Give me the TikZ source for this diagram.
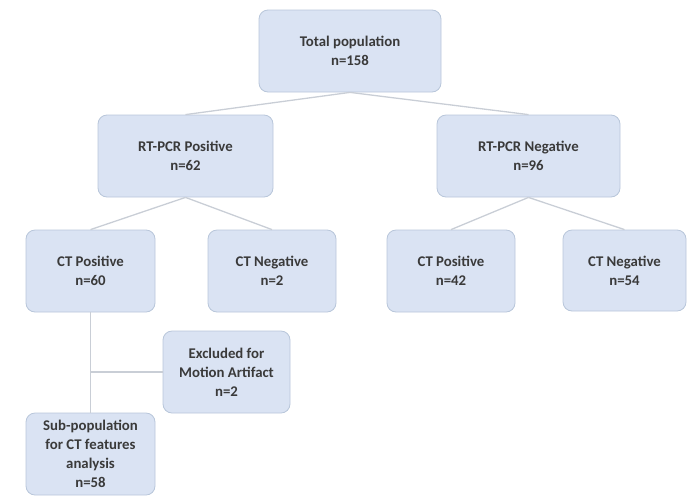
\documentclass[tikz,border=0pt]{standalone}
\usepackage{xcolor}
\usepackage{fontspec}
\setmainfont{Carlito}
\usepackage{tikz}

\definecolor{boxfill}{HTML}{DAE3F3}
\definecolor{boxline}{HTML}{B8C6DA}
\definecolor{linkline}{HTML}{C9CED6}
\definecolor{boxtext}{HTML}{3A3A3A}

\tikzset{
  group/.style={draw=boxline, fill=boxfill, rounded corners=9pt, line width=0.8pt,
    align=center, text=boxtext, inner sep=2pt,
    font=\fontsize{14.8}{19}\selectfont\bfseries},
  link/.style={draw=linkline, line width=1.3pt}
}

\begin{document}
\begin{tikzpicture}[x=1pt,y=-1pt]
\useasboundingbox (0,0) rectangle (687,496);

\node[group, minimum width=182pt, minimum height=82pt] (total) at (350,51) {Total population\\n=158};

\node[group, minimum width=175pt, minimum height=82pt] (rtpos) at (185.5,156) {RT-PCR Positive\\n=62};
\node[group, minimum width=183pt, minimum height=82pt] (rtneg) at (528.5,156) {RT-PCR Negative\\n=96};

\node[group, minimum width=129pt, minimum height=82pt] (ctposa) at (90.5,271) {CT Positive\\n=60};
\node[group, minimum width=128pt, minimum height=82pt] (ctnega) at (272,271) {CT Negative\\n=2};
\node[group, minimum width=128pt, minimum height=82pt] (ctposb) at (451,271) {CT Positive\\n=42};
\node[group, minimum width=123pt, minimum height=81pt] (ctnegb) at (624.5,270.5) {CT Negative\\n=54};

\node[group, minimum width=127pt, minimum height=82pt] (excl) at (226.5,372) {Excluded for\\Motion Artifact\\n=2};
\node[group, minimum width=129pt, minimum height=82pt] (sub) at (90.5,454) {Sub-population\\for CT features\\analysis\\n=58};

\draw[link] (total.south) -- (rtpos.north);
\draw[link] (total.south) -- (rtneg.north);

\draw[link] (rtpos.south) -- (ctposa.north);
\draw[link] (rtpos.south) -- (ctnega.north);
\draw[link] (rtneg.south) -- (ctposb.north);
\draw[link] (rtneg.south) -- (ctnegb.north);

\draw[link] (ctposa.south) -- (sub.north);
\draw[link] (ctposa.south |- excl.west) -- (excl.west);

\end{tikzpicture}
\end{document}
